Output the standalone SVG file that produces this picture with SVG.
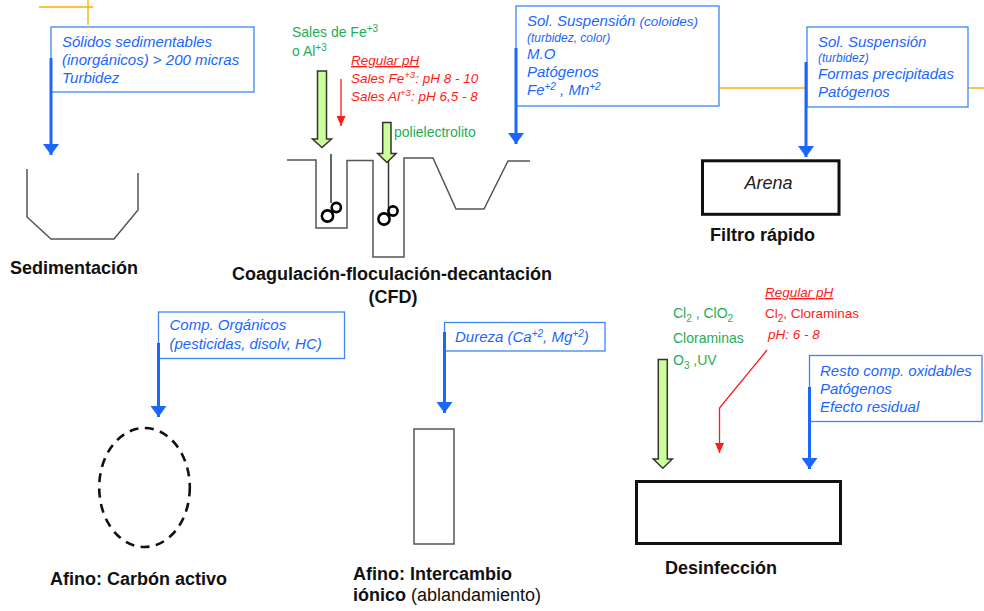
<svg xmlns="http://www.w3.org/2000/svg" width="984" height="611" viewBox="0 0 984 611">
<defs>
<style>
.bt{font-family:"Liberation Sans",Arial,sans-serif;font-style:italic;font-size:15px;fill:#1a66ff}
.bt.sm{font-size:12px}
.ttl{font-family:"Liberation Sans",Arial,sans-serif;font-weight:bold;font-size:18px;fill:#111}
.gr{font-family:"Liberation Sans",Arial,sans-serif;font-size:14px;fill:#1fae55}
.rd{font-family:"Liberation Sans",Arial,sans-serif;font-size:13.5px;fill:#ff1a1a}
.box{fill:none;stroke:#3d86f2;stroke-width:1.3}
.ba{stroke:#1a66ff;stroke-width:3;fill:none}
.ra{stroke:#ff1a1a;stroke-width:1.3;fill:none}
.ga{fill:#ccff99;stroke:#333;stroke-width:1.5}
.tank{fill:none;stroke:#555;stroke-width:1.5}
.or{stroke:#f5b400;stroke-width:1.3;fill:none}
.stir{fill:none;stroke:#000;stroke-width:2.6}
</style>
<marker id="bh" markerUnits="userSpaceOnUse" markerWidth="11" markerHeight="16" viewBox="0 0 11 16" refX="11" refY="8" orient="auto"><path d="M0,0 L11,8 L0,16 z" fill="#1a66ff"/></marker>
<marker id="rh" markerUnits="userSpaceOnUse" markerWidth="10" markerHeight="9" viewBox="0 0 10 9" refX="10" refY="4.5" orient="auto"><path d="M0,0 L10,4.5 L0,9 z" fill="#ff1a1a"/></marker>
</defs>
<rect width="984" height="611" fill="#fff"/>

<g id="guides">
<path class="or" d="M39,7 H93 M88,0 V25 M719,88 H806 M968,88 H984"/>
</g>

<g id="sedimentacion">
<rect class="box" x="51" y="27" width="203" height="65"/>
<text class="bt" x="62" y="47">Sólidos sedimentables</text>
<text class="bt" x="62" y="65">(inorgánicos) &gt; 200 micras</text>
<text class="bt" x="62" y="83">Turbidez</text>
<path class="tank" d="M27,169 V217 L51,239 H114 L138,210 V173"/>
<text class="ttl" x="10" y="274">Sedimentación</text>
</g>

<g id="cfd">
<text class="gr" x="292" y="37">Sales de Fe<tspan dy="-5" font-size="10">+3</tspan></text>
<text class="gr" x="292" y="56">o Al<tspan dy="-5" font-size="10">+3</tspan></text>
<text class="rd" x="351" y="65" font-style="italic" text-decoration="underline">Regular pH</text>
<text class="rd" x="351" y="83" font-style="italic">Sales Fe<tspan dy="-5" font-size="9.5">+3</tspan><tspan dy="5">: pH 8 - 10</tspan></text>
<text class="rd" x="351" y="101" font-style="italic">Sales Al<tspan dy="-5" font-size="9.5">+3</tspan><tspan dy="5">: pH 6,5 - 8</tspan></text>
<text class="gr" x="394" y="137">polielectrolito</text>
<path class="tank" d="M287,160 H316 V228 H347 V160.5 H373 V257 H404 V158 H433 L456,209 H484 L508,161 H530"/>
<line x1="331" y1="154" x2="331" y2="203" stroke="#333" stroke-width="1.5"/>
<circle class="stir" cx="327.5" cy="216" r="5.6"/>
<circle class="stir" cx="336.3" cy="207.5" r="4.6"/>
<line x1="388.5" y1="160" x2="388.5" y2="208" stroke="#333" stroke-width="1.5"/>
<circle class="stir" cx="384" cy="219" r="5.6"/>
<circle class="stir" cx="393" cy="211" r="4.6"/>
<polygon class="ga" points="317.5,71 326.5,71 326.5,139 331.5,139 322,147.5 312.5,139 317.5,139"/>
<polygon class="ga" points="382.7,122.5 391,122.5 391,153.5 396,153.5 386.9,162.5 377.7,153.5 382.7,153.5"/>
<text class="ttl" x="392" y="280" text-anchor="middle">Coagulación-floculación-decantación</text>
<text class="ttl" x="393" y="303" text-anchor="middle">(CFD)</text>
<rect class="box" x="516" y="6" width="203" height="100"/>
<text class="bt" x="527" y="26">Sol. Suspensión <tspan font-size="13.5">(coloides)</tspan></text>
<text class="bt sm" x="527" y="42">(turbidez, color)</text>
<text class="bt" x="527" y="59">M.O</text>
<text class="bt" x="527" y="77">Patógenos</text>
<text class="bt" x="527" y="95">Fe<tspan dy="-5" font-size="10">+2</tspan><tspan dy="5"> , Mn</tspan><tspan dy="-5" font-size="10">+2</tspan></text>
</g>

<g id="filtro">
<rect class="box" x="807" y="27" width="161" height="80"/>
<text class="bt" x="818" y="47">Sol. Suspensión</text>
<text class="bt sm" x="818" y="62">(turbidez)</text>
<text class="bt" x="818" y="79">Formas precipitadas</text>
<text class="bt" x="818" y="97">Patógenos</text>
<rect x="702.5" y="160.8" width="136.5" height="53.5" fill="none" stroke="#111" stroke-width="3"/>
<text x="768.5" y="189" text-anchor="middle" font-family="'Liberation Sans',Arial,sans-serif" font-style="italic" font-size="18" fill="#222">Arena</text>
<text class="ttl" x="710" y="241">Filtro rápido</text>
</g>

<g id="carbon">
<rect class="box" x="158.5" y="312" width="186" height="46.5"/>
<text class="bt" x="169.5" y="330">Comp. Orgánicos</text>
<text class="bt" x="169.5" y="349">(pesticidas, disolv, HC)</text>
<ellipse cx="144.5" cy="487.5" rx="45.3" ry="59.5" fill="none" stroke="#111" stroke-width="2.6" stroke-dasharray="9 6.5"/>
<text class="ttl" x="50" y="585">Afino: Carbón activo</text>
</g>

<g id="intercambio">
<rect class="box" x="444.5" y="322.5" width="160.5" height="28.5"/>
<text class="bt" x="455" y="342">Dureza (Ca<tspan dy="-5" font-size="10">+2</tspan><tspan dy="5">, Mg</tspan><tspan dy="-5" font-size="10">+2</tspan><tspan dy="5">)</tspan></text>
<rect x="414" y="429" width="40" height="115" fill="none" stroke="#555" stroke-width="1.5"/>
<text class="ttl" x="353" y="580">Afino: Intercambio</text>
<text class="ttl" x="353" y="601">iónico<tspan font-weight="normal"> (ablandamiento)</tspan></text>
</g>

<g id="desinfeccion">
<text class="gr" x="673" y="318">Cl<tspan dy="4" font-size="10">2</tspan><tspan dy="-4"> , ClO</tspan><tspan dy="4" font-size="10">2</tspan></text>
<text class="gr" x="673" y="343">Cloraminas</text>
<text class="gr" x="673" y="365">O<tspan dy="4" font-size="10">3</tspan><tspan dy="-4"> ,UV</tspan></text>
<text class="rd" x="765" y="297" font-style="italic" text-decoration="underline">Regular pH</text>
<text class="rd" x="765" y="318">Cl<tspan dy="4" font-size="10">2</tspan><tspan dy="-4">, Cloraminas</tspan></text>
<text class="rd" x="768" y="339" font-style="italic">pH: 6 - 8</text>
<polygon class="ga" points="658.3,359.5 667.3,359.5 667.3,459 672.3,459 662.8,468.3 653.3,459 658.3,459"/>
<rect class="box" x="809.5" y="355.5" width="172.5" height="66"/>
<text class="bt" x="820" y="376">Resto comp. oxidables</text>
<text class="bt" x="820" y="394">Patógenos</text>
<text class="bt" x="820" y="412">Efecto residual</text>
<rect x="636.5" y="481.5" width="204" height="62" fill="none" stroke="#111" stroke-width="3"/>
<text class="ttl" x="665" y="574">Desinfección</text>
</g>

<g id="connectors">
<line class="ba" x1="51" y1="58" x2="51" y2="155" marker-end="url(#bh)"/>
<line class="ba" x1="516" y1="48" x2="516" y2="144" marker-end="url(#bh)"/>
<line class="ba" x1="806" y1="62" x2="806" y2="157" marker-end="url(#bh)"/>
<line class="ba" x1="158.5" y1="343" x2="158.5" y2="417" marker-end="url(#bh)"/>
<line class="ba" x1="444.5" y1="332" x2="444.5" y2="413" marker-end="url(#bh)"/>
<line class="ba" x1="809.5" y1="387" x2="809.5" y2="469" marker-end="url(#bh)"/>
<line class="ra" x1="341" y1="79" x2="341" y2="126" marker-end="url(#rh)"/>
<polyline class="ra" points="767,350 719.5,408 719.5,453" marker-end="url(#rh)"/>
</g>
</svg>
